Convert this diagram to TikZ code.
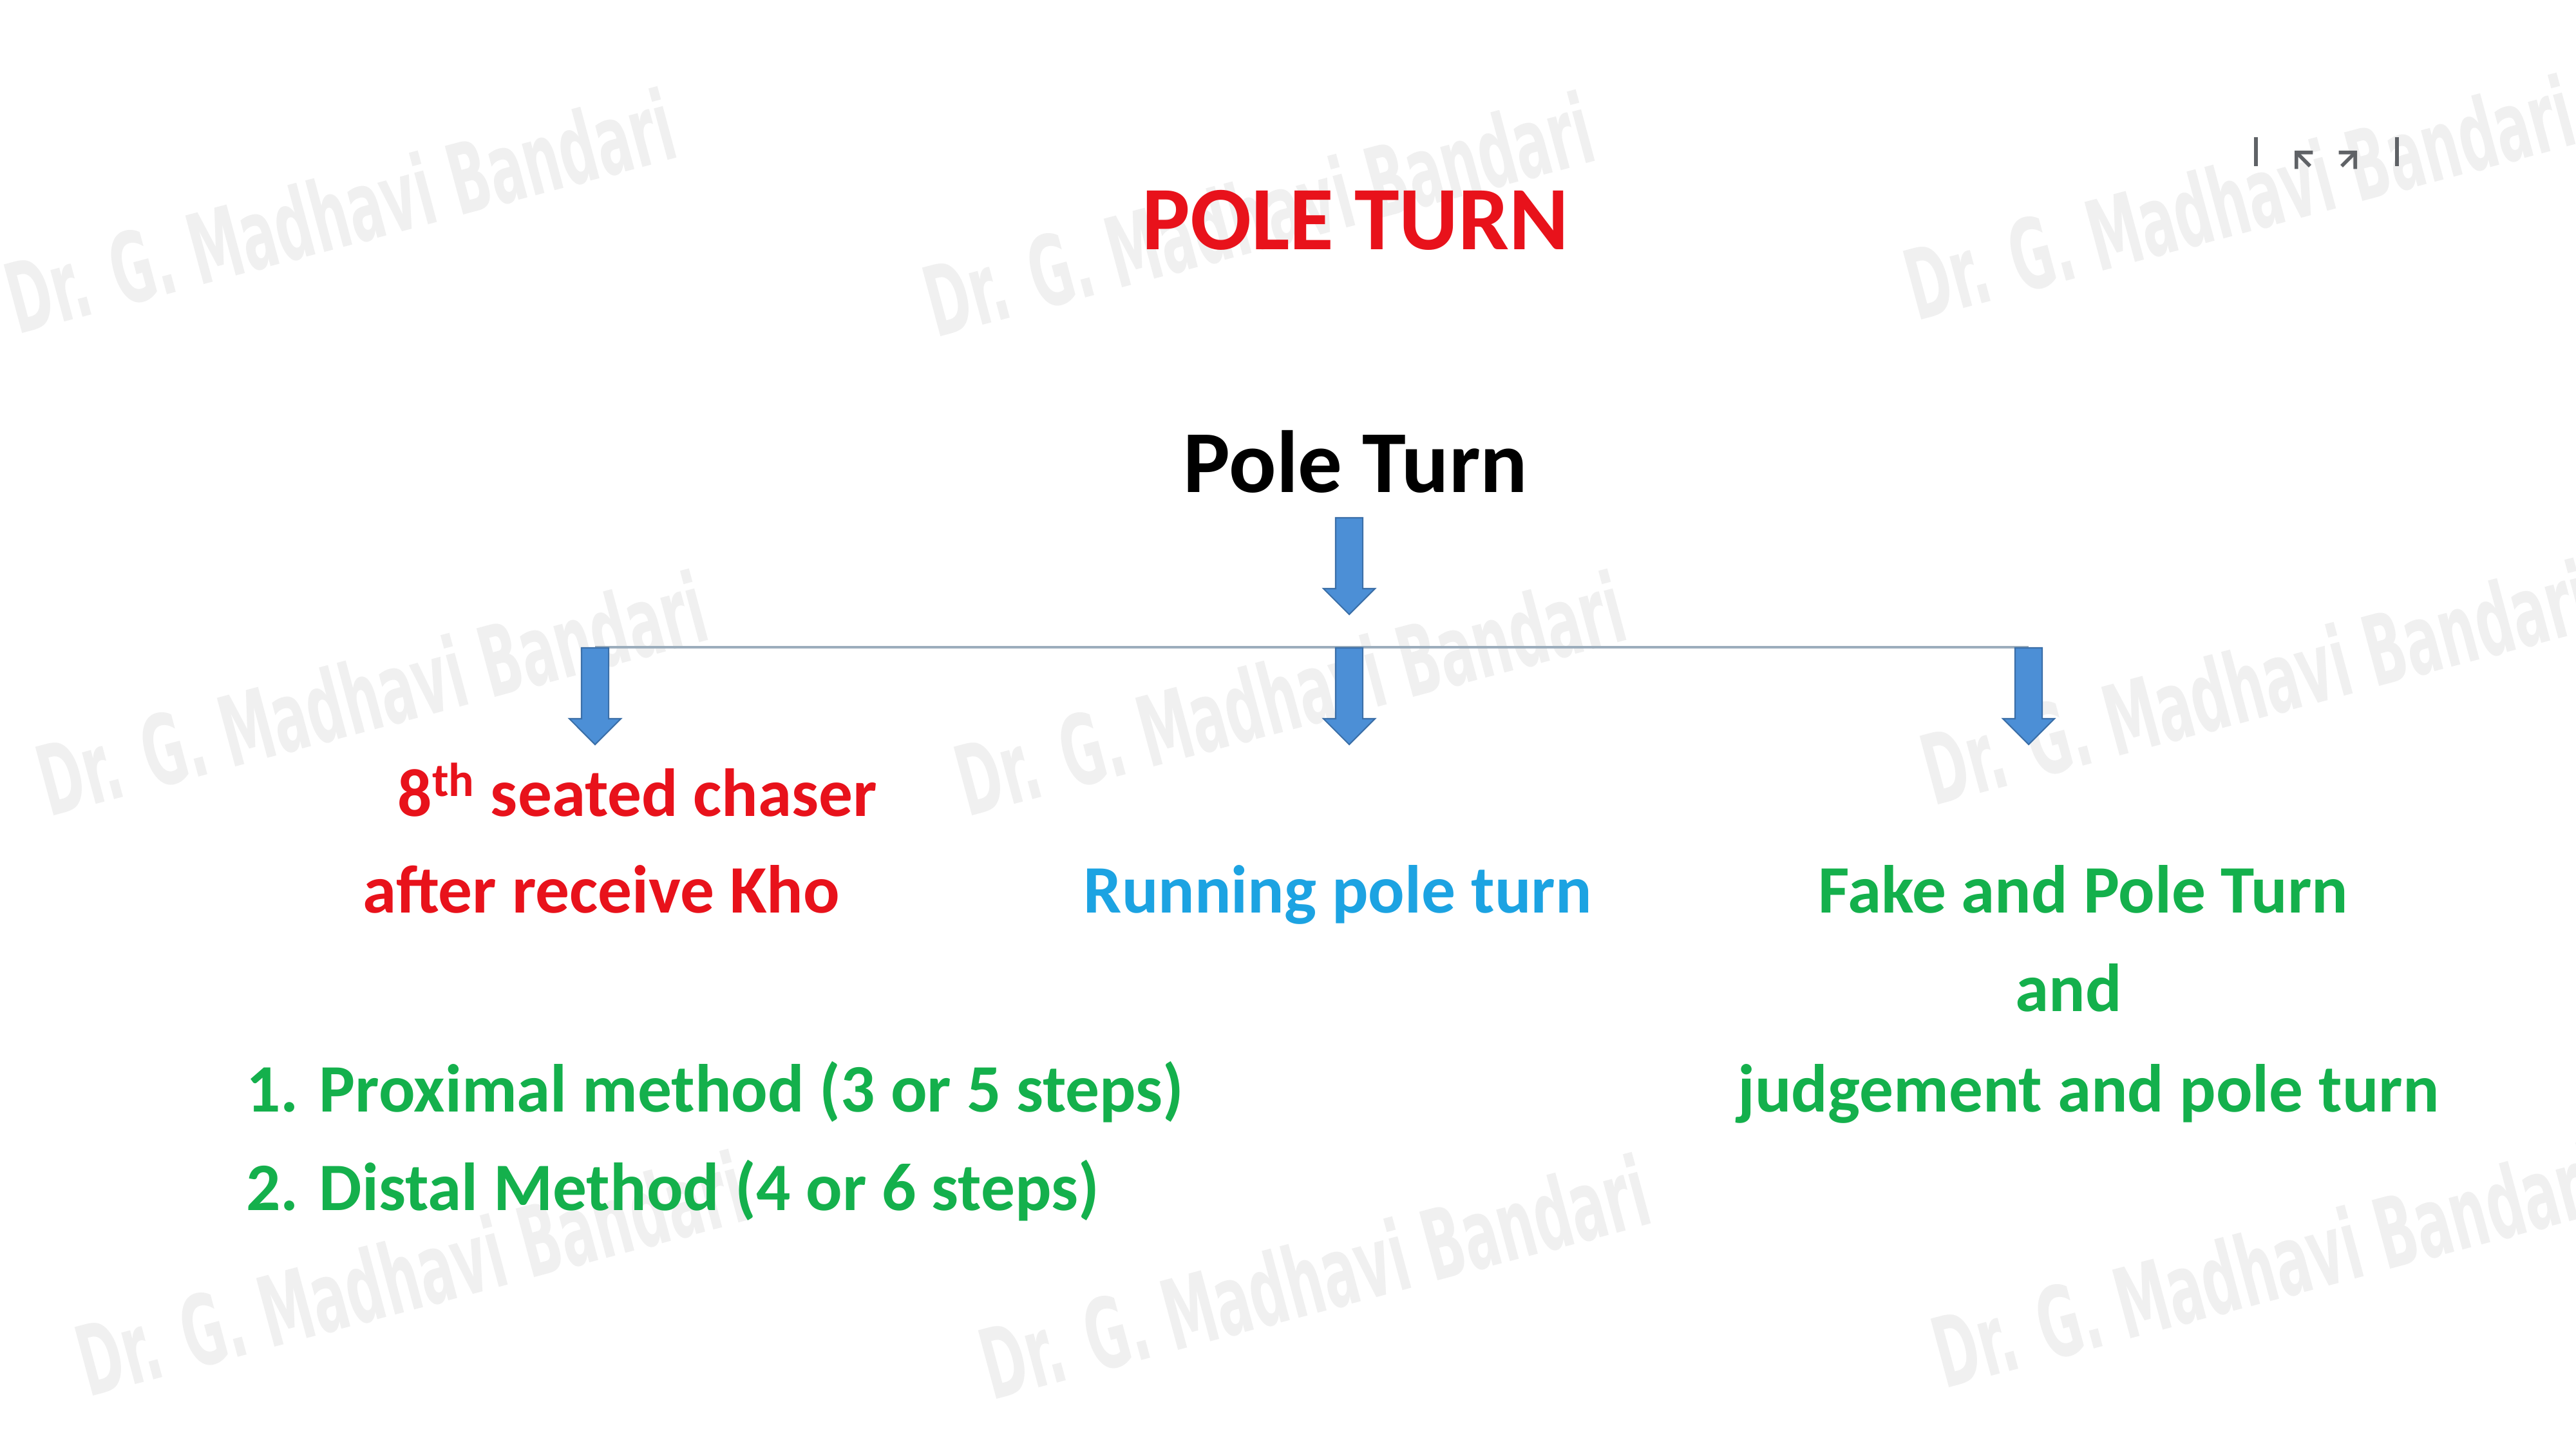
\documentclass[tikz,border=0pt]{standalone}
\usepackage{fontspec}
\setmainfont{Carlito}
\newfontfamily\wmfont{DejaVu Sans}
\definecolor{poleRed}{HTML}{E8121B}
\definecolor{poleBlue}{HTML}{1CA3E2}
\definecolor{poleGreen}{HTML}{14B04C}
\definecolor{arrowFill}{HTML}{4C8FD6}
\definecolor{arrowEdge}{HTML}{3B6FA8}
\definecolor{barLine}{HTML}{9CADBC}
\definecolor{iconGray}{HTML}{5F6266}
\usetikzlibrary{
	arrows.meta,
	shapes.arrows
}
\tikzset{
	blockarrow/.style={single arrow, draw=arrowEdge, fill=arrowFill, line width=0.6pt,
		rotate=-90, anchor=tail, minimum height=1.5cm, inner xsep=0pt, inner ysep=0.2cm,
		single arrow head extend=0.19cm},
	titletxt/.style={font=\fontsize{40}{48}\selectfont\bfseries, text=poleRed, anchor=base},
	headtxt/.style={font=\fontsize{39}{47}\selectfont\bfseries, anchor=base},
	branchtxt/.style={font=\fontsize{30}{36}\selectfont\bfseries, anchor=base},
	watermark/.style={font=\wmfont\fontsize{43}{50}\selectfont\bfseries, text=black!6,
		rotate=15, xscale=0.54},
	icon/.style={draw=iconGray, line width=1.6pt}
}

\begin{document}
\begin{tikzpicture}
		\useasboundingbox (0,0) rectangle (40,22.5);
		\fill[white] (0,0) rectangle (40,22.5);
		% watermarks
		\foreach \x/\y [count=\k] in {5.28/19.23, 19.54/19.18, 34.77/19.44,
			5.77/11.74, 20.03/11.74, 35.03/11.91,
			6.38/2.73, 20.41/2.68, 35.20/2.86}{
			\node[watermark] (wm\k) at (\x,\y) {Dr. G. Madhavi Bandari};}
		% window icons
		\draw[icon] (35.03,20.37) -- (35.03,19.92);
		\draw[icon, -{Straight Barb[angle=90:0.2cm 1]}] (35.87,19.92) -- (35.63,20.16);
		\draw[icon, -{Straight Barb[angle=90:0.2cm 1]}] (36.36,19.92) -- (36.60,20.16);
		\draw[icon] (37.22,20.37) -- (37.22,19.92);
		% headings
		\node[titletxt] (title) at (21.05,18.62) {POLE TURN};
		\node[headtxt] (poleturn) at (21.05,14.85) {Pole Turn};
		% arrows and bar
		\coordinate (barL) at (9.24,12.45);
		\coordinate (barM) at (20.95,12.45);
		\coordinate (barR) at (31.50,12.45);
		\draw[barLine, line width=0.9pt] (barL) -- (barR);
		\node[blockarrow] (arrTop) at (20.95,14.47) {};
		\node[blockarrow] (arrLeft) at (barL) {};
		\node[blockarrow] (arrMid) at (barM) {};
		\node[blockarrow] (arrRight) at (barR) {};
		% branches
		\node[branchtxt, text=poleRed] (seated) at (9.90,9.82) {8\textsuperscript{th} seated chaser};
		\node[branchtxt, text=poleRed] (receive) at (9.34,8.32) {after receive Kho};
		\node[branchtxt, text=poleBlue] (running) at (20.77,8.32) {Running pole turn};
		\node[branchtxt, text=poleGreen] (fake) at (32.35,8.32) {Fake and Pole Turn};
		\node[branchtxt, text=poleGreen] (fakeand) at (32.12,6.79) {and};
		\node[branchtxt, text=poleGreen] (judge) at (32.43,5.23) {judgement and pole turn};
		\node[branchtxt, text=poleGreen, anchor=base west] (proximal) at (3.70,5.23) {1. Proximal method (3 or 5 steps)};
		\node[branchtxt, text=poleGreen, anchor=base west] (distal) at (3.70,3.70) {2. Distal Method (4 or 6 steps)};
	\end{tikzpicture}
\end{document}
